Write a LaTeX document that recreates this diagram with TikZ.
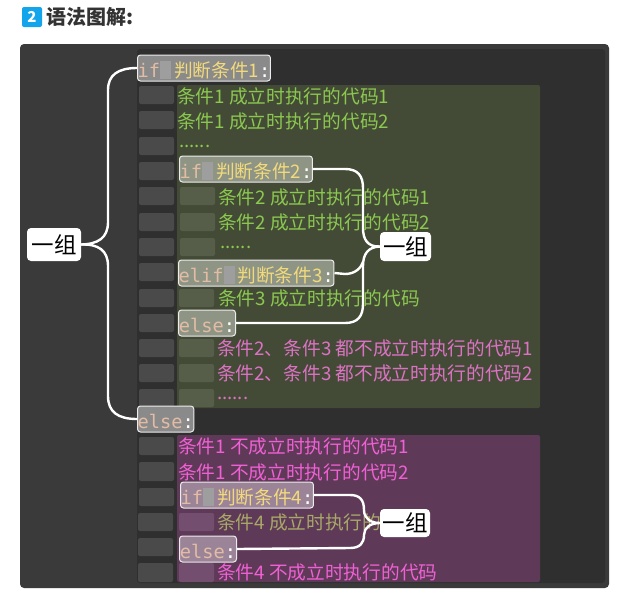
\documentclass[tikz,border=0pt]{standalone}
\usepackage{fontspec}
\setmainfont{Noto Sans CJK SC}
\newfontfamily\codefont{DejaVu Sans Mono}
\definecolor{panelc}{HTML}{3A3A3A}
\definecolor{innerc}{HTML}{2F2F2F}
\definecolor{greenbg}{HTML}{434B36}
\definecolor{pinkbg}{HTML}{5E3A58}
\definecolor{indentc}{HTML}{4A4A4A}
\definecolor{indentg}{HTML}{565E4A}
\definecolor{indentp}{HTML}{744E6E}
\definecolor{greentxt}{HTML}{8CC850}
\definecolor{rosetxt}{HTML}{DC72C4}
\definecolor{pinktxt}{HTML}{F060D4}
\definecolor{olivetxt}{HTML}{A8A868}
\definecolor{kwtxt}{HTML}{E2BCA4}
\definecolor{condtxt}{HTML}{F2DA7C}
\definecolor{kwgrey}{HTML}{8A8A8A}
\definecolor{kwgreen}{HTML}{8F9585}
\definecolor{kwpink}{HTML}{9C8498}
\definecolor{badgec}{HTML}{12A5EC}
\tikzset{
  code/.style={anchor=west,inner sep=0pt,yshift=-1pt,font=\fontsize{18.7}{18.7}\selectfont},
  indent/.style={rounded corners=2pt},
  kwbox/.style={draw=white!85!gray,line width=1pt,rounded corners=3pt,anchor=west,inner sep=0pt,minimum height=26pt,text height=21pt,text depth=3pt,font=\fontsize{18.7}{18.7}\selectfont},
  group/.style={fill=white,rounded corners=4pt,inner sep=0pt,font=\fontsize{22.5}{22.5}\selectfont,text=black},
  link/.style={draw=white,line width=2.4pt}
}
\newcommand{\kwd}[1]{{\codefont\color{kwtxt}#1}}
\newcommand{\kwcolon}{{\codefont\color{white}:}}
\newcommand{\kwgap}{\textcolor{white!62!black}{\rule[-2pt]{11pt}{18pt}}\kern3pt}
\begin{document}
\begin{tikzpicture}[x=1pt,y=-1pt]
    \useasboundingbox (0,0) rectangle (623,600);
    % title
    \node[fill=badgec,rounded corners=2pt,minimum size=20pt,inner sep=0pt,text=white,font=\bfseries\fontsize{15}{15}\selectfont] (badge) at (32,17) {2};
    \node[anchor=west,inner sep=0pt,text=black!80,font=\bfseries\fontsize{20}{20}\selectfont] (title) at (46,17) {语法图解:};
    % panels
    \fill[panelc,rounded corners=4pt] (20,44) rectangle (609,588);
    \fill[innerc,rounded corners=3pt] (137,49) rectangle (605,583);
    \fill[greenbg,rounded corners=2pt] (177,85) rectangle (540,408);
    \fill[pinkbg,rounded corners=2pt] (177,435) rectangle (540,582);
    % first indent
    \fill[indentc,indent] (139,86) rectangle (174,104) (139,111) rectangle (174,129) (139,137) rectangle (174,155);
    \fill[indentc,indent] (139,162) rectangle (174,180) (139,187) rectangle (174,205) (139,213) rectangle (174,231);
    \fill[indentc,indent] (139,238) rectangle (174,256) (139,263) rectangle (174,281) (139,289) rectangle (174,307);
    \fill[indentc,indent] (139,314) rectangle (174,332) (139,339) rectangle (174,357) (139,364) rectangle (174,382);
    \fill[indentc,indent] (139,389) rectangle (174,407);
    \fill[indentc,indent] (139,437) rectangle (174,455) (139,462) rectangle (174,481) (139,488) rectangle (174,506);
    \fill[indentc,indent] (138,513) rectangle (173,531) (138,538) rectangle (173,556) (138,563) rectangle (173,582);
    % second indent
    \fill[indentg,indent] (180,187) rectangle (215,205) (180,213) rectangle (215,231) (180,238) rectangle (215,256);
    \fill[indentg,indent] (179,289) rectangle (214,307) (179,339) rectangle (214,357) (179,364) rectangle (214,382);
    \fill[indentg,indent] (179,389) rectangle (214,407);
    \fill[indentp,indent] (179,513) rectangle (214,531) (179,563) rectangle (214,582);
    % code text
    \node[code,text=greentxt] (lineaa) at (177,95) {条件1 成立时执行的代码1};
    \node[code,text=greentxt] (lineab) at (177,120) {条件1 成立时执行的代码2};
    \node[code,text=greentxt] (lineac) at (179,145) {......};
    \node[code,text=greentxt] (lineba) at (218,196) {条件2 成立时执行的代码1};
    \node[code,text=greentxt] (linebb) at (218,221) {条件2 成立时执行的代码2};
    \node[code,text=greentxt] (linebc) at (220,246) {......};
    \node[code,text=greentxt] (linec) at (218,297) {条件3 成立时执行的代码};
    \node[code,text=rosetxt] (lineda) at (217,347) {条件2、条件3 都不成立时执行的代码1};
    \node[code,text=rosetxt] (linedb) at (217,372) {条件2、条件3 都不成立时执行的代码2};
    \node[code,text=rosetxt] (linedc) at (217,397) {......};
    \node[code,text=pinktxt] (lineea) at (178,445) {条件1 不成立时执行的代码1};
    \node[code,text=pinktxt] (lineeb) at (178,471) {条件1 不成立时执行的代码2};
    \node[code,text=olivetxt] (linef) at (217,521) {条件4 成立时执行的};
    \node[code,text=pinktxt] (lineg) at (217,571) {条件4 不成立时执行的代码};
    % keyword boxes
    \node[kwbox,fill=kwgrey,minimum width=132pt] (ifa) at (137,68) {\kwd{if}\kwgap\textcolor{condtxt}{判断条件1}\kwcolon};
    \node[kwbox,fill=kwgreen,minimum width=132pt] (ifb) at (179,169) {\kwd{if}\kwgap\textcolor{condtxt}{判断条件2}\kwcolon};
    \node[kwbox,fill=kwgreen,minimum width=152pt] (elifb) at (178,273) {\kwd{elif}\kwgap\textcolor{condtxt}{判断条件3}\kwcolon};
    \node[kwbox,fill=kwgreen,minimum width=57pt] (elseb) at (178,323) {\kwd{else}\kwcolon};
    \node[kwbox,fill=kwgrey,minimum width=56pt] (elsea) at (137,419) {\kwd{else}\kwcolon};
    \node[kwbox,fill=kwpink,minimum width=131pt] (ifc) at (180,495) {\kwd{if}\kwgap\textcolor{condtxt}{判断条件4}\kwcolon};
    \node[kwbox,fill=kwpink,minimum width=57pt] (elsec) at (179,549) {\kwd{else}\kwcolon};
    % group labels
    \node[group,minimum width=54pt,minimum height=33pt] (groupa) at (54,244.5) {一组};
    \node[group,minimum width=51pt,minimum height=29pt] (groupb) at (405.5,246.5) {一组};
    \node[group,minimum width=50pt,minimum height=28pt] (groupc) at (405,523) {一组};
    % braces
    \draw[link] (ifa.west) .. controls (118,68) and (108,75) .. (108,90) -- (108,222) .. controls (108,238) and (98,244) .. (groupa.east);
    \draw[link] (elsea.west) .. controls (118,419) and (108,412) .. (108,396) -- (108,266) .. controls (108,250) and (98,244) .. (groupa.east);
    \draw[link] (ifb.east) -- (345,169) .. controls (358,169) and (363,176) .. (363,188) -- (363,228) .. controls (363,240) and (368,247) .. (groupb.west);
    \draw[link] (elseb.east) -- (345,323) .. controls (358,323) and (363,316) .. (363,304) -- (363,266) .. controls (363,254) and (368,247) .. (groupb.west);
    \draw[link] (elifb.east) -- (345,274) .. controls (355,274) and (361,268) .. (363,262);
    \draw[link] (ifc.east) -- (350,495) .. controls (360,495) and (364,500) .. (364,510) .. controls (364,518) and (370,523) .. (groupc.west);
    \draw[link] (elsec.east) -- (350,548) .. controls (360,548) and (364,543) .. (364,535) .. controls (364,528) and (370,523) .. (groupc.west);
\end{tikzpicture}
\end{document}
